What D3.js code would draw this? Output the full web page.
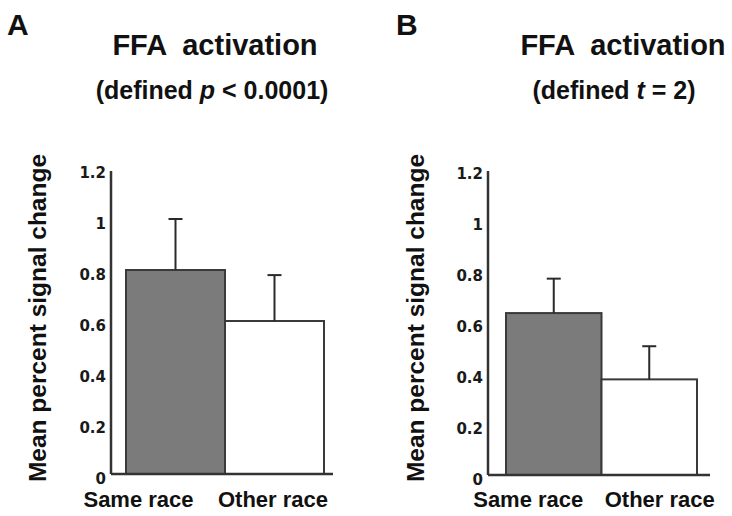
<!DOCTYPE html>
<html>
<head>
<meta charset="utf-8">
<script src="https://cdn.jsdelivr.net/npm/d3@7"></script>
<style>
  body { margin: 0; background: #fff; }
  text { font-family: "Liberation Sans", Arial, Helvetica, sans-serif; font-weight: bold; fill: #111; }
</style>
</head>
<body>
<script>
// Data
const categories = ["Same race", "Other race"];
const meansA = [0.80, 0.60];
const errA   = [0.20, 0.18];
const meansB = [0.635, 0.375];
const errB   = [0.135, 0.13];
const yTicks = [0, 0.2, 0.4, 0.6, 0.8, 1, 1.2];
const tickLabels = ["0", "0.2", "0.4", "0.6", "0.8", "1", "1.2"];
const fills = ["#7b7b7b", "#ffffff"];

const width = 732, height = 516;

const svg = d3.select("body").append("svg")
  .attr("width", width)
  .attr("height", height);

// panel layout
const panels = [
  {letter: "A", letterX: 7, subtitle: ["(defined ", "p", " < 0.0001)"],
   titleX: 215, subX: 212, yTitleX: 37,
   axisX: 111, barL: 126, barR: 324, baseR: 333, y0: 474, y1: 168, axisTop: 171,
   labelDx: [-37, -1.5], means: meansA, errs: errA},
  {letter: "B", letterX: 396, subtitle: ["(defined ", "t", " = 2)"],
   titleX: 623, subX: 614, yTitleX: 415,
   axisX: 488, barL: 506, barR: 697, baseR: 710, y0: 475, y1: 169, axisTop: 171,
   labelDx: [-25.5, 10.5], means: meansB, errs: errB}
];

panels.forEach(p => drawPanel(p));

function drawPanel(p) {
  const g = svg.append("g");

  const x = d3.scaleBand().domain(categories).range([p.barL, p.barR]).padding(0);
  const y = d3.scaleLinear().domain([0, 1.2]).range([p.y0, p.y1]);

  // letter
  g.append("text").attr("x", p.letterX).attr("y", 35)
    .style("font-size", "30px").text(p.letter);

  // titles
  g.append("text").attr("x", p.titleX).attr("y", 55)
    .attr("text-anchor", "middle").style("font-size", "29px")
    .style("white-space", "pre").text("FFA  activation");

  const sub = g.append("text").attr("x", p.subX).attr("y", 99)
    .attr("text-anchor", "middle").style("font-size", "25px")
    .style("white-space", "pre");
  sub.append("tspan").text(p.subtitle[0]);
  sub.append("tspan").style("font-style", "italic").text(p.subtitle[1]);
  sub.append("tspan").text(p.subtitle[2]);

  // y title
  g.append("text")
    .attr("transform", "translate(" + p.yTitleX + ",318) rotate(-90)")
    .attr("text-anchor", "middle").attr("dy", "0.35em")
    .style("font-size", "24.5px").text("Mean percent signal change");

  // tick labels
  g.selectAll(".tick-lbl")
    .data(yTicks)
    .enter().append("text")
    .attr("class", "tick-lbl")
    .attr("x", p.axisX - 5)
    .attr("y", d => y(d) + 5)
    .attr("dy", "0.35em")
    .attr("text-anchor", "end")
    .style("font-family", "'DejaVu Sans', sans-serif")
    .style("font-size", "15px")
    .style("fill", "#1a1a1a")
    .text((d, i) => tickLabels[i]);

  // bars
  g.selectAll(".bar")
    .data(categories)
    .enter().append("rect")
    .attr("class", "bar")
    .attr("x", d => x(d))
    .attr("y", (d, i) => y(p.means[i]))
    .attr("width", x.bandwidth())
    .attr("height", (d, i) => y(0) - y(p.means[i]))
    .attr("fill", (d, i) => fills[i])
    .attr("stroke", "#3a3a3a")
    .attr("stroke-width", 2);

  // error bars
  const capW = 14;
  categories.forEach((c, i) => {
    const cx = x(c) + x.bandwidth() / 2;
    g.append("line")
      .attr("x1", cx).attr("x2", cx)
      .attr("y1", y(p.means[i])).attr("y2", y(p.means[i] + p.errs[i]))
      .attr("stroke", "#2a2a2a").attr("stroke-width", 2);
    g.append("line")
      .attr("x1", cx - capW / 2).attr("x2", cx + capW / 2)
      .attr("y1", y(p.means[i] + p.errs[i])).attr("y2", y(p.means[i] + p.errs[i]))
      .attr("stroke", "#2a2a2a").attr("stroke-width", 2);
  });

  // axes lines
  g.append("line")
    .attr("x1", p.axisX).attr("x2", p.axisX)
    .attr("y1", p.axisTop).attr("y2", y(0))
    .attr("stroke", "#333").attr("stroke-width", 2.5);
  g.append("line")
    .attr("x1", p.axisX).attr("x2", p.baseR)
    .attr("y1", y(0)).attr("y2", y(0))
    .attr("stroke", "#333").attr("stroke-width", 2.5);

  // category labels
  g.selectAll(".cat")
    .data(categories)
    .enter().append("text")
    .attr("class", "cat")
    .attr("x", (d, i) => x(d) + x.bandwidth() / 2 + p.labelDx[i])
    .attr("y", 507)
    .attr("text-anchor", "middle")
    .style("font-size", "22px")
    .text(d => d);
}
</script>
</body>
</html>
